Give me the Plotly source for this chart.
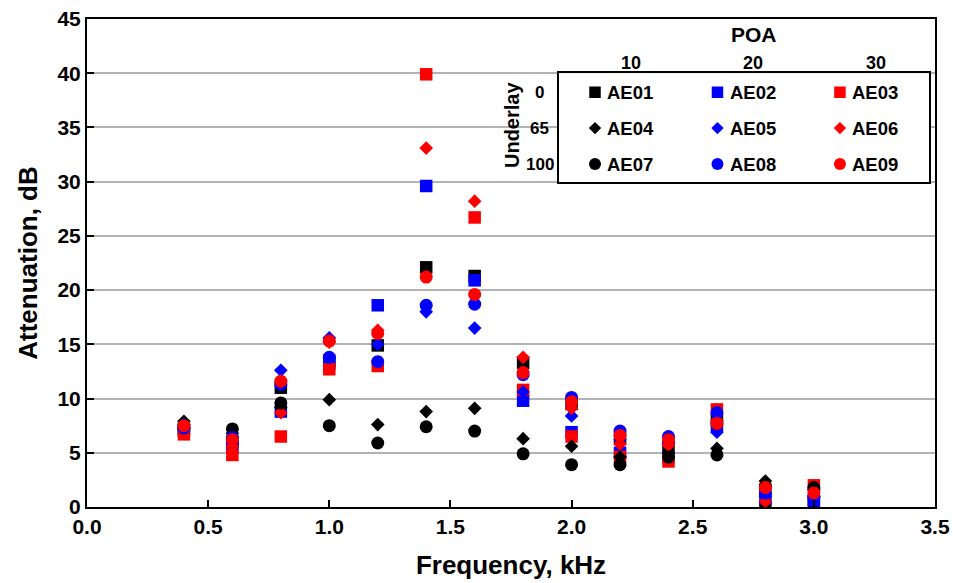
import plotly.graph_objects as go

# ---------------- data ----------------
freq = [0.4, 0.6, 0.8, 1.0, 1.2, 1.4, 1.6, 1.8, 2.0, 2.2, 2.4, 2.6, 2.8, 3.0]

ae01 = [7.2, 6.0, 11.0, 13.5, 14.9, 22.1, 21.3, 13.3, 9.5, 6.3, 5.6, 8.0, 0.0, 0.3]
ae02 = [7.0, 5.5, 8.8, 13.2, 18.6, 29.6, 20.9, 9.8, 6.9, 5.0, 4.6, 7.5, 0.8, 0.6]
ae03 = [6.7, 4.8, 6.5, 12.7, 13.0, 39.9, 26.7, 10.8, 6.5, 4.6, 4.2, 9.0, 1.6, 2.0]
ae04 = [7.9, 6.8, 9.2, 9.9, 7.6, 8.8, 9.1, 6.3, 5.6, 4.6, 5.0, 5.4, 2.4, 1.6]
ae05 = [7.6, 5.8, 12.6, 15.6, 15.0, 18.0, 16.5, 10.6, 8.4, 6.2, 5.9, 6.9, 1.0, 1.0]
ae06 = [7.2, 5.6, 8.7, 15.2, 16.3, 33.1, 28.2, 13.8, 9.1, 5.8, 5.7, 8.0, 0.5, 1.0]
ae07 = [7.3, 7.2, 9.6, 7.5, 5.9, 7.4, 7.0, 4.9, 3.9, 3.9, 4.6, 4.8, 1.9, 1.8]
ae08 = [7.3, 6.4, 11.3, 13.8, 13.4, 18.6, 18.7, 12.2, 10.1, 7.0, 6.5, 8.7, 1.3, 0.9]
ae09 = [7.5, 6.2, 11.6, 15.3, 16.0, 21.2, 19.6, 12.4, 9.7, 6.6, 6.2, 7.7, 1.8, 1.3]

names = ["AE01", "AE02", "AE03", "AE04", "AE05", "AE06", "AE07", "AE08", "AE09"]
values = [ae01, ae02, ae03, ae04, ae05, ae06, ae07, ae08, ae09]
poa = [10, 20, 30]          # legend columns
underlay = [0, 65, 100]     # legend rows

colors = ["#000000", "#0000FF", "#FF0000"]   # by POA
symbols = ["square", "diamond", "circle"]     # by underlay
sizes = {"square": 12.5, "diamond": 10.5, "circle": 13}

FONT = "Liberation Sans, Arial, sans-serif"

fig = go.Figure()

for i, (name, vals) in enumerate(zip(names, values)):
    row, col = divmod(i, 3)
    sym = symbols[row]
    fig.add_trace(go.Scatter(
        x=freq, y=vals, mode="markers", name=name, showlegend=False,
        marker=dict(symbol=sym, color=colors[col], size=sizes[sym], line=dict(width=0)),
        hoverinfo="x+y+name",
    ))

# custom legend keys (grid: column = POA, row = underlay)
for i, name in enumerate(names):
    row, col = divmod(i, 3)
    sym = symbols[row]
    fig.add_trace(go.Scatter(
        x=[col], y=[row], mode="markers", xaxis="x2", yaxis="y2", showlegend=False,
        marker=dict(symbol=sym, color=colors[col], size=sizes[sym] - 1, line=dict(width=0)),
        hoverinfo="skip",
    ))
    fig.add_annotation(x=col + 0.085, y=row, xref="x2", yref="y2", text=name,
                       showarrow=False, xanchor="left", yanchor="middle",
                       font=dict(family=FONT, size=18.5, color="black", weight="bold"))

# legend headers
for c, p in enumerate(poa):
    fig.add_annotation(x=c + 0.294, y=0.9098, xref="x2", yref="paper", text=str(p),
                       showarrow=False, xanchor="center", yanchor="middle",
                       font=dict(family=FONT, size=18, color="black", weight="bold"))
for r, u in enumerate(underlay):
    fig.add_annotation(x=0.534, y=r, xref="paper", yref="y2", text=str(u),
                       showarrow=False, xanchor="center", yanchor="middle",
                       font=dict(family=FONT, size=17, color="black", weight="bold"))
fig.add_annotation(x=0.7866, y=0.969, xref="paper", yref="paper", text="POA",
                   showarrow=False, xanchor="center", yanchor="middle",
                   font=dict(family=FONT, size=21, color="black", weight="bold"))
fig.add_annotation(x=0.5012, y=0.7828, xref="paper", yref="paper", text="Underlay",
                   textangle=-90, showarrow=False, xanchor="center", yanchor="middle",
                   font=dict(family=FONT, size=20, color="black", weight="bold"))

# legend box fill (white, hides gridlines behind the legend)
fig.add_shape(type="rect", xref="x2 domain", yref="y2 domain",
              x0=0, x1=1, y0=0, y1=1,
              fillcolor="white", line=dict(width=0), layer="below")

axis_common = dict(
    showline=True, linecolor="black", linewidth=2, mirror=True,
    ticks="inside", ticklen=7, tickwidth=2, tickcolor="black",
    zeroline=False, automargin=False,
    tickfont=dict(family=FONT, size=21, color="black", weight="bold"),
)

legend_axis = dict(showline=True, linecolor="black", linewidth=2, mirror=True,
                   showgrid=False, zeroline=False, showticklabels=False, ticks="",
                   automargin=False, fixedrange=True)

fig.update_layout(
    width=953, height=583,
    margin=dict(l=87, r=18, t=19, b=76),
    paper_bgcolor="white", plot_bgcolor="white",
    showlegend=False,
    xaxis=dict(range=[0, 3.5], dtick=0.5, tick0=0, tickformat=".1f", showgrid=False,
               title=dict(text="Frequency, kHz", standoff=19,
                          font=dict(family=FONT, size=26, color="black", weight="bold")),
               **axis_common),
    yaxis=dict(range=[0, 45], dtick=5, tick0=0, showgrid=True, gridcolor="#b3b3b3", gridwidth=1.5,
               title=dict(text="Attenuation, dB", standoff=12,
                          font=dict(family=FONT, size=26, color="black", weight="bold")),
               **axis_common),
    xaxis2=dict(domain=[0.5566, 0.9929], anchor="y2", range=[-0.294, 2.727], **legend_axis),
    yaxis2=dict(domain=[0.666, 0.889], anchor="x2", range=[2.5, -0.528], **legend_axis),
)

fig.write_html("out.html")
